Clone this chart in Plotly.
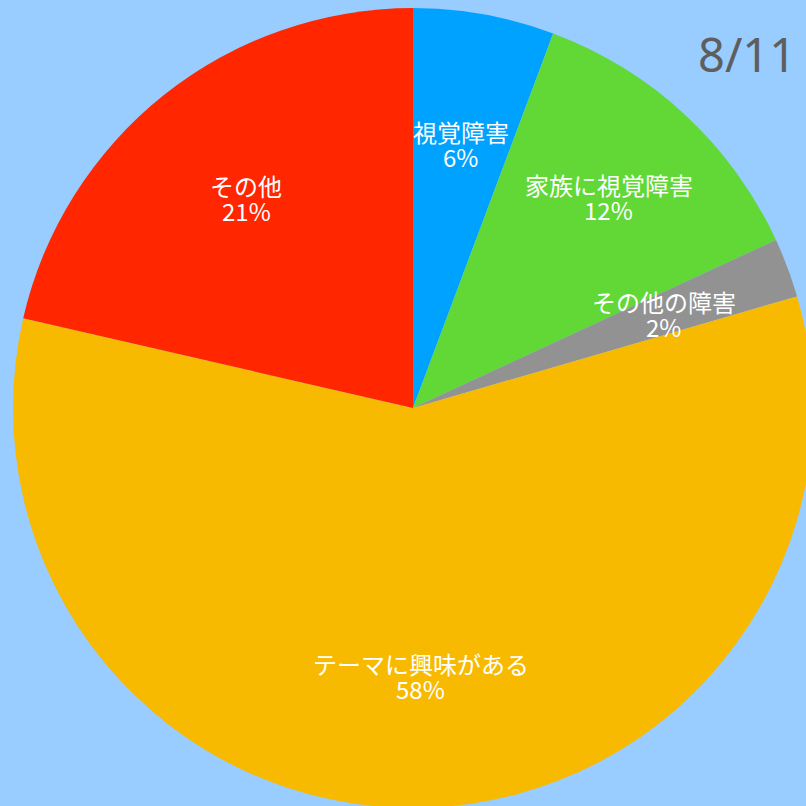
import math
import plotly.graph_objects as go

labels = ["視覚障害", "家族に視覚障害", "その他の障害", "テーマに興味がある", "その他"]
values = [5.7, 12.4, 2.4, 58.1, 21.4]
colors = ["#00A2FF", "#61D836", "#929292", "#F8BA00", "#FF2600"]
title_text = "8/11"

BG = "#99CCFF"
LABEL_FONT = dict(family="Noto Sans CJK JP", size=24, color="white")
# radial position of each label block, as a fraction of the pie radius
label_radius = [0.67, 0.72, 0.67, 0.67, 0.67]

fig = go.Figure(go.Pie(
    labels=labels, values=values, sort=False, direction="clockwise", rotation=0,
    marker=dict(colors=colors, line=dict(width=0)),
    textinfo="none", hoverinfo="skip", showlegend=False,
    domain=dict(x=[0, 1], y=[0, 1]),
))

total = sum(values)
cum = 0.0
anns = []
for lab, v, lr in zip(labels, values, label_radius):
    mid = (cum + v / 2) / total * 2 * math.pi
    cum += v
    pct = round(v / total * 100)
    cx = 0.5 + 0.5 * lr * math.sin(mid)
    cy = 0.5 + 0.5 * lr * math.cos(mid)
    for txt, shift in ((lab, 12.5), (f"{pct}%", -12.5)):
        anns.append(dict(
            x=cx, y=cy, xref="paper", yref="paper", showarrow=False,
            xanchor="center", yanchor="middle", yshift=shift,
            text=txt, font=LABEL_FONT,
        ))

anns.append(dict(
    x=0.981, y=0.942, xref="paper", yref="paper", showarrow=False,
    xanchor="right", yanchor="middle", text=title_text,
    font=dict(family="Noto Sans", size=47, color="#5E5E5E"),
))

fig.update_layout(
    width=826, height=816, autosize=False,
    margin=dict(l=13, r=13, t=8, b=8, pad=0),
    paper_bgcolor=BG, plot_bgcolor=BG,
    annotations=anns,
)

fig.write_html(
    "out.html",
    config={"displayModeBar": False},
    post_script="document.body.style.margin='0';document.body.style.overflow='hidden';document.body.style.background='#99CCFF';",
)
